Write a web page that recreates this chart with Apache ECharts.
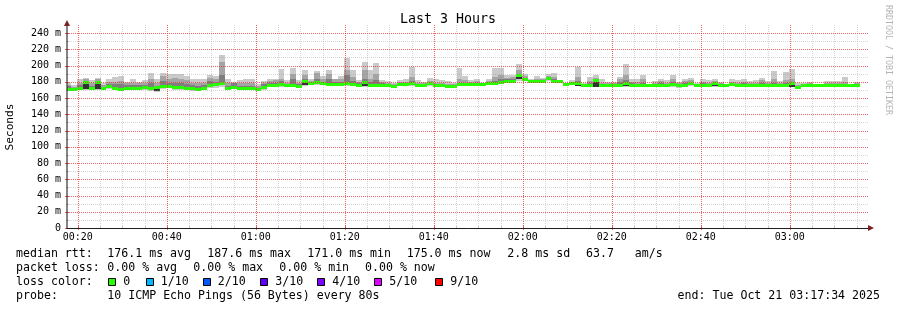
<!DOCTYPE html>
<html><head><meta charset="utf-8">
<style>html,body{margin:0;padding:0;background:#fff}#c{width:897px;height:310px}</style>
<script src="https://cdn.jsdelivr.net/npm/echarts@6/dist/echarts.min.js"></script>
</head><body><div id="c"></div>
<script>
// ---- time frame (minutes after midnight) ----
const axisStart = 17 + 34 / 60;     // 00:17:34
const axisEnd = 197 + 34 / 60;      // 03:17:34
const firstStepStart = 17.1;        // first 80 s RRD step
const stepMinutes = 80 / 60;

// ---- per step round trip times (ms), 10 pings sorted ----
const ping10 = [179,176,183,185,182,185,178,184,185.5,187,180,183,179.5,182,190.5,184,190.5,189.5,190,190,187,183,183,183,188,187,213,183,179.5,182,183,183,177,181,184,184,195.3,182,196.5,182,195,183,193,187,195,184,187,
208.8,195,182,204.3,195,203,182,181,179,182,184,198.5,182,180,184.5,183,182,181,179,196.5,187,182,184,179,183,196.5,196.5,188,189,201.4,190,183,187,185,190,191,182,178,182,198.5,178,185.5,188,183,180,180,186,201.8,183,184,188.7,177,181.5,183.4,182,188.7,180,183,185,179,183,182,183,180,177,183,182,183,181,182,185,181,193,181,192,195.7,178,178,180,177,177,181.5,181.5,181,185.5,177,180];
const ping9 = [176,174,179,183,178,183,176,180,180,181,178,179,178,179,183.5,178,187,183,185,184,182,179,178,179,185,183,204.5,178,178.5,178,178,178,175,179,181,182,183.4,179,190,179,188,181,190.4,183,190,183,183,
195,186,180,195,184,190,180,179,177.5,179.5,180,186,179,178.5,181,179,178.5,177.5,177,184,182,179.5,181,178.5,181,186,188,185,186,194,187,182,184,183.5,187,186,181.5,177.5,180,186,177,181,185,179,178,178,183,188,180,180,183,176.5,179,181,179,184,178.5,181,182,177.5,180,179,181,178,176.5,180,179,180,178.5,179,182,178.5,184,178.5,182,183,176.5,177,178,176.5,176.5,179,179,178.5,180,176.5,178];
const ping8 = [175,172,176,180,175,181,174,177,177,177,176,176,176,176,179,175,181,178,179,178,177,176,175,176,181,180,188,175,178,175,175,175,173,177,179,179,181,177,183,177,183,179.5,183,180,184,180,180,
188,181,178,184,180,182,178,177,176,178,178,181,177.5,177,179,177,176.5,176,176,179,179,178,179,178,179.5,181,183,183,184,190,185,181.5,182.5,182.5,185,183,181,177,179,181,176.5,178,183,177,177,176.5,180,182,178,177.5,179,176,177.5,179,177,180,177,179,180,176.5,178,177,180,177,176,178,177,178,177,177,179,177,179,177,178,180,175,176,177,176,176,177.5,177.5,177,177.5,176,177];
const median = [171,171,171.5,179,172,179.5,172,174.5,172,171,171.5,172,172,172.5,171.5,173,174,174,172.5,172.5,171.5,172,171,172,175.5,176.5,178.5,172,172.5,172,172,172,171,173,176,176,176.5,175.5,176,174.5,181,178,179,177.5,177,177,177,
178,177,176,179,176,176,175.5,175.5,174.5,176.5,176.5,177.5,175.5,175.5,177.5,175,175,174,174.5,176.5,176.5,176.5,177,177,178,178,179.5,180.5,180.5,187.6,183,180.5,180.5,181,183.5,181,181,176.5,177.5,177.5,175.5,175.5,182,175.5,175.5,175,175,177.5,175.5,175.5,176,175.5,175.5,176,175.5,176.5,175.5,176,178.5,175.5,176,175.5,178,175.5,175.5,177,175.5,176,175.5,175.5,176,175.5,175.5,175.5,175.5,177.5,173.5,175,175.5,175.5,175.5,175.5,175.5,175.5,175.5,175,175];
const ping5 = [169.5,170,170.5,171.5,171,171,171,172,171,170,170.5,171,171,171,170,169,172,173,171.5,171.5,171,170,170,171,174,175,176,170,172,171.5,171.5,171.5,170.5,171,175,175,175,174.5,175,173.5,176,177,177,176.5,176,176,176,
176,176,175,175,175,175,174.5,174.5,173.5,175.5,175.5,176,174.5,174.5,176,174,174,173,173.5,175.5,175.5,175.5,176,176,177,177,178.5,179.5,179.5,183,182,179.5,179.5,180,182,180,180,175.5,176.5,175,174.5,174.5,174,174.5,174.5,174,174,175,174.5,174.5,175,174.5,174.5,175,174.5,175,174,175,176,174.5,175,174.5,174.5,174.5,174.5,175.5,174.5,175,174.5,174.5,175,174.5,174.5,174.5,174.5,174,173,174.5,174.5,174.5,174.5,174,174.5,174.5,174.5,174.5,174.5];
const ping1 = [169,169,170,170.5,170,170,169.5,171,170,169,169.5,170,170,170,169,168,171,172,170.5,170.5,170,169,169,170,172,173,174,169.5,171,171,171,171,170,170,174,174,174,174,174,173,175,176,176,176,175,175,175,
175,175,174,174,174,174,174,173.5,173,174.5,174.5,175,174,174,175,173.5,173.5,172.5,173,174.5,175,175,175,175.5,176,176,177.5,178.5,178.5,181,180.5,179,179,179.5,181,179.5,179,174.5,176,174.5,174,174,173.5,174,174,173.5,173.5,174,174,174,174,174,174,174,173.5,174,173,174,175,173.5,174,174,174,174,174,174.5,174,174,174,174,174,174,174,174,174,173.5,172.5,174,174,174,174,173.5,174,174,174,174,174];

// ---- axes ----
const xMajorTicks = [20,40,60,80,100,120,140,160,180];
const xMinorTicks = [25,30,35,45,50,55,65,70,75,85,90,95,105,110,115,125,130,135,145,150,155,165,170,175,185,190,195];
const yMajorTicks = [0,20,40,60,80,100,120,140,160,180,200,220,240];
const yMinorTicks = [10,30,50,70,90,110,130,150,170,190,210,230];

// ---- texts ----
const title = 'Last 3 Hours';
const yName = 'Seconds';
const watermark = 'RRDTOOL / TOBI OETIKER';
const rttStats = ['176.1 ms avg','187.6 ms max','171.0 ms min','175.0 ms now','2.8 ms sd','63.7   am/s'];
const lossStats = ['0.00 % avg','0.00 % max','0.00 % min','0.00 % now'];
const lossLabels = ['0','1/10','2/10','3/10','4/10','5/10','9/10'];
const lossColors = ['#26ff00','#00b8ff','#0059ff','#5e00ff','#7e00ff','#dd00ff','#ff0000'];
const probeText = '10 ICMP Echo Pings (56 Bytes) every 80s';
const endText = 'end: Tue Oct 21 03:17:34 2025';

const MONO = "'DejaVu Sans Mono', monospace";
const MAJOR = 'rgba(230,60,60,0.8)';
const MINOR = 'rgba(150,150,150,0.4)';
const hhmm = v => String(Math.floor(v / 60)).padStart(2, '0') + ':' + String(Math.round(v % 60)).padStart(2, '0');

const steps = median.map((m, i) => [firstStepStart + i * stepMinutes, firstStepStart + (i + 1) * stepMinutes,
  ping1[i], ping5[i], ping8[i], ping9[i], ping10[i], m]);

// grid lines drawn through the axis scales
function gridSeries(values, vertical, color, z, tickLen) {
  return {
    type: 'custom', xAxisIndex: 0, yAxisIndex: 0, clip: false, silent: true, z: z,
    data: values.map(v => vertical ? [v, 0] : [axisStart, v]),
    encode: vertical ? { x: 0 } : { y: 1 },
    renderItem: function (params, api) {
      const cs = params.coordSys;
      if (vertical) {
        const x = Math.round(api.coord([api.value(0), 0])[0]) + 0.5;
        const yb = cs.y + cs.height;
        return { type: 'group', children: [
          { type: 'line', shape: { x1: x, y1: cs.y, x2: x, y2: yb }, style: { stroke: color, lineWidth: 1, lineDash: [1, 1] } },
          { type: 'line', shape: { x1: x, y1: yb - 2, x2: x, y2: yb + tickLen }, style: { stroke: color, lineWidth: 1 } }
        ] };
      }
      const y = Math.round(api.coord([axisStart, api.value(1)])[1]) + 0.5;
      return { type: 'group', children: [
        { type: 'line', shape: { x1: cs.x, y1: y, x2: cs.x + cs.width, y2: y }, style: { stroke: color, lineWidth: 1, lineDash: [1, 1] } },
        { type: 'line', shape: { x1: cs.x - tickLen, y1: y, x2: cs.x + 2, y2: y }, style: { stroke: color, lineWidth: 1 } }
      ] };
    }
  };
}

const chart = echarts.init(document.getElementById('c'), null, { renderer: 'canvas' });

chart.setOption({
  animation: false,
  backgroundColor: '#ffffff',
  grid: { left: 67, right: 29, top: 25, bottom: 82 },
  xAxis: {
    type: 'value', min: axisStart, max: axisEnd, position: 'bottom', z: 6,
    axisLine: { show: true, onZero: false, lineStyle: { color: '#1f1f1f', width: 1 } },
    axisTick: { show: false, customValues: xMajorTicks },
    axisLabel: { show: true, customValues: xMajorTicks, margin: 4, formatter: hhmm,
      color: '#000', fontFamily: MONO, fontSize: 10 },
    splitLine: { show: false }
  },
  yAxis: {
    type: 'value', min: 0, max: 250, position: 'left', z: 6,
    axisLine: { show: true, onZero: false, lineStyle: { color: 'rgba(31,31,31,0.55)', width: 2 } },
    axisTick: { show: false, customValues: yMajorTicks },
    axisLabel: { show: true, customValues: yMajorTicks, margin: 6,
      formatter: v => v === 0 ? '0' : v + ' m', color: '#000', fontFamily: MONO, fontSize: 10 },
    splitLine: { show: false }
  },
  series: [
    {
      type: 'custom', xAxisIndex: 0, yAxisIndex: 0, clip: true, z: 2,
      encode: { x: [0, 1], y: [2, 3, 4, 5, 6, 7] },
      renderItem: function (params, api) {
        const t0 = api.value(0), t1 = api.value(1);
        const xa = Math.round(api.coord([t0, 0])[0]);
        const xb = Math.round(api.coord([t1, 0])[0]);
        const py = v => Math.round(api.coord([t0, v])[1]);
        const band = (lo, hi, fill) => {
          const yt = py(hi), yb = py(lo);
          return { type: 'rect', shape: { x: xa, y: yt, width: xb - xa, height: Math.max(yb - yt, 0) }, style: { fill: fill } };
        };
        const my = api.coord([t0, api.value(7)])[1];
        return { type: 'group', children: [
          band(api.value(2), api.value(6), '#cacaca'),
          band(api.value(3), api.value(5), '#a4a4a4'),
          band(api.value(3), api.value(4), '#7e7e7e'),
          band(api.value(3), api.value(7), '#323232'),
          { type: 'rect', shape: { x: xa, y: Math.round(my - 1.5), width: xb - xa, height: 3 }, style: { fill: lossColors[0] } }
        ] };
      },
      data: steps
    },
    gridSeries(xMinorTicks, true, MINOR, 3, 1),
    gridSeries(yMinorTicks, false, MINOR, 3, 1),
    gridSeries(xMajorTicks, true, MAJOR, 4, 2),
    gridSeries(yMajorTicks, false, MAJOR, 4, 2)
  ]
});

// ---- decorations and legend texts ----
const topLeft = chart.convertToPixel({ xAxisIndex: 0, yAxisIndex: 0 }, [axisStart, 250]);
const botRight = chart.convertToPixel({ xAxisIndex: 0, yAxisIndex: 0 }, [axisEnd, 0]);
const ax = Math.round(topLeft[0]), ayTop = Math.round(topLeft[1]);
const bx = Math.round(botRight[0]), by = Math.round(botRight[1]);

const font = `11.6px ${MONO}`;
const txt = (text, x, y, extra) => Object.assign({
  type: 'text', x: x, y: y, z: 10,
  style: Object.assign({ text: text, font: font, fill: '#000', align: 'left', verticalAlign: 'middle',
    textAlign: 'left', textVerticalAlign: 'middle' }, extra || {})
});

const g = [];
g.push(txt(title, 448, 20, { font: `13.3px ${MONO}`, align: 'center', textAlign: 'center' }));
g.push(Object.assign(txt(yName, 10, 127, { font: `11.2px ${MONO}`, align: 'center', textAlign: 'center' }), { rotation: Math.PI / 2 }));
g.push(Object.assign(txt(watermark, 888, 60, { font: `8.3px ${MONO}`, fill: '#b4b4b4', align: 'center', textAlign: 'center' }), { rotation: -Math.PI / 2 }));
// arrows
g.push({ type: 'polygon', z: 10, shape: { points: [[ax, ayTop - 5], [ax - 3, ayTop + 1], [ax + 3, ayTop + 1]] }, style: { fill: '#801f1f' } });
g.push({ type: 'polygon', z: 10, shape: { points: [[bx + 6, by], [bx, by - 3], [bx, by + 3]] }, style: { fill: '#801f1f' } });

const rowY = [254, 268, 282, 296];
g.push(txt('median rtt:', 16, rowY[0]));
const rttX = [107.3, 207.3, 307.3, 406.7, 507.3, 586];
rttStats.forEach((s, i) => g.push(txt(s, rttX[i], rowY[0])));
g.push(txt('packet loss:', 16, rowY[1]));
const lossX = [107.3, 193.3, 279.3, 365];
lossStats.forEach((s, i) => g.push(txt(s, lossX[i], rowY[1])));
g.push(txt('loss color:', 16, rowY[2]));
const boxX = [108, 145.5, 202.5, 260, 317, 374, 435];
lossLabels.forEach((s, i) => {
  g.push({ type: 'rect', z: 10, shape: { x: Math.round(boxX[i]) + 0.5, y: 278.5, width: 7, height: 7 },
    style: { fill: lossColors[i], stroke: '#000', lineWidth: 1 } });
  g.push(txt(s, boxX[i] + 15.3, rowY[2]));
});
g.push(txt('probe:', 16, rowY[3]));
g.push(txt(probeText, 107.3, rowY[3]));
g.push(txt(endText, 880, rowY[3], { align: 'right', textAlign: 'right' }));

chart.setOption({ graphic: { elements: g } });
</script>
</body></html>
